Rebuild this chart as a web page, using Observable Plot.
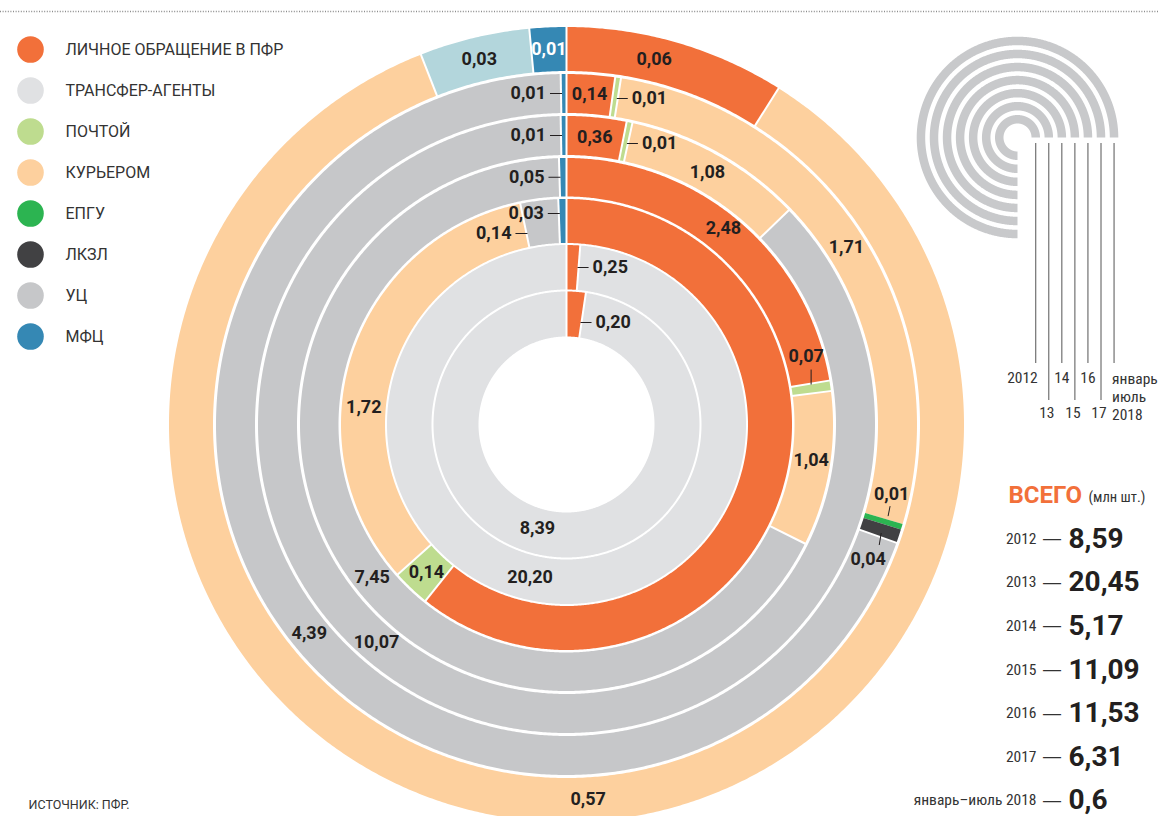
<!DOCTYPE html>
<html><head><meta charset="utf-8">
<script src="https://cdn.jsdelivr.net/npm/d3@7"></script>
<script src="https://cdn.jsdelivr.net/npm/@observablehq/plot@0.6"></script>
<style>
body{margin:0;background:#fff;overflow:hidden;}
#chart svg{display:block;}
</style></head><body><div id="chart"></div>
<script>
// ---------- DATA ----------
const years = ["2012","2013","2014","2015","2016","2017","2018"];
const yearLabels = ["2012","2013","2014","2015","2016","2017","январь–июль 2018"];
const keyLabels = ["2012","13","14","15","16","17","январь\nиюль\n2018"];
const totals = [8.59, 20.45, 5.17, 11.09, 11.53, 6.31, 0.6];
const channels = ["personal","transfer","post","courier","epgu","lkzl","uc","other","mfc"];
const channelNames = ["ЛИЧНОЕ ОБРАЩЕНИЕ В ПФР","ТРАНСФЕР-АГЕНТЫ","ПОЧТОЙ","КУРЬЕРОМ","ЕПГУ","ЛКЗЛ","УЦ","","МФЦ"];
const colors = ["#f2703a","#e0e1e3","#bedc8f","#fdd09e","#2cb451","#414143","#c6c7c9","#b3d6dc","#3588b4"];
// values per channel, one per year (2012..2018), clockwise order from 12 o'clock
const personal = [0.20, 0.25, 3.14, 2.48, 0.36, 0.14, 0.06];
const transfer = [8.39, 20.20, 0, 0, 0, 0, 0];
const post     = [0, 0, 0.14, 0.07, 0.01, 0.01, 0];
const courier  = [0, 0, 1.72, 1.04, 1.08, 1.71, 0.57];
const epgu     = [0, 0, 0, 0, 0, 0.01, 0];
const lkzl     = [0, 0, 0, 0, 0, 0.04, 0];
const uc       = [0, 0, 0.14, 7.45, 10.07, 4.39, 0];
const other    = [0, 0, 0, 0, 0, 0, 0.03];
const mfc      = [0, 0, 0.03, 0.05, 0.01, 0.01, 0.01];
const series = {personal, transfer, post, courier, epgu, lkzl, uc, other, mfc};

// ---------- LAYOUT ----------
const FONT = "Roboto,'Liberation Sans',sans-serif";
const NARROW = "'Liberation Sans Narrow','Roboto Condensed','DejaVu Sans Condensed',Roboto,sans-serif";
const W = 1158, H = 816, CX = 566, CY = 424;
const px = v => v - CX, py = v => CY - v;
const ringInner = [88, 135, 181.5, 228, 269.5, 311.5, 353.5];
const ringOuter = [133, 179.5, 225.5, 266.5, 308.5, 350.5, 397.5];
const minArc = 5.5;
const rad = d => d * Math.PI / 180;
const pol = (a, r, c = [0, 0]) => [c[0] + r * Math.sin(rad(a)), c[1] + r * Math.cos(rad(a))];

const segments = [];
years.forEach((yr, i) => {
  const parts = channels.map(ch => ({ch, v: series[ch][i]})).filter(d => d.v > 0);
  const total = d3.sum(parts, d => d.v);
  const rm = (ringInner[i] + ringOuter[i]) / 2;
  const minDeg = minArc / rm * 180 / Math.PI;
  const angle = d3.scaleLinear().domain([0, total]).range([0, 360]);
  parts.forEach(p => p.span = angle(p.v));
  let extra = 0;
  parts.forEach(p => { if (p.span < minDeg) { extra += minDeg - p.span; p.span = minDeg; } });
  d3.greatest(parts, p => p.span).span -= extra;
  let a = 0;
  parts.forEach(p => {
    segments.push({ring: i, ch: p.ch, v: p.v, a0: a, a1: a + p.span, r0: ringInner[i], r1: ringOuter[i], rm});
    a += p.span;
  });
});

function arcPolygon(id, a0, a1, r0, r1, c, extra) {
  const n = Math.max(2, Math.ceil((a1 - a0) / 0.4));
  const pts = [];
  for (let k = 0; k <= n; k++) { const [x, y] = pol(a0 + (a1 - a0) * k / n, r1, c); pts.push({id, x, y, ...extra}); }
  for (let k = n; k >= 0; k--) { const [x, y] = pol(a0 + (a1 - a0) * k / n, r0, c); pts.push({id, x, y, ...extra}); }
  return pts;
}
const ringPts = segments.flatMap((s, j) => arcPolygon("s" + j, s.a0, s.a1, s.r0, s.r1, [0, 0], {ch: s.ch}));
const seps = segments.filter(s => s.ch !== "epgu" && s.ch !== "lkzl").map(s => {
  const [x1, y1] = pol(s.a0, s.r0 - 1); const [x2, y2] = pol(s.a0, s.r1 + 1);
  return {x1, y1, x2, y2};
});

// labels
const fmt = v => v.toFixed(2).replace(".", ",");
const labelSpecs = [
  {ring: 0, ch: "transfer", angle: 195.6, r: 108},
  {ring: 0, ch: "personal", lead: "right", r: 102},
  {ring: 1, ch: "transfer", angle: 193.4},
  {ring: 1, ch: "personal", lead: "right", r: 157},
  {ring: 2, ch: "uc", lead: "left", r: 191},
  {ring: 2, ch: "mfc", lead: "left", r: 211},
  {ring: 2, ch: "courier", angle: 275},
  {ring: 2, ch: "post"},
  {ring: 3, ch: "mfc", lead: "left"},
  {ring: 3, ch: "personal", angle: 38.7, r: 251},
  {ring: 3, ch: "post", lead: "offset", t0: [0, 4], t1: [0, 19], tt: [-5, 32.5]},
  {ring: 3, ch: "courier", angle: 98.3},
  {ring: 3, ch: "uc", angle: 231.8},
  {ring: 4, ch: "mfc", lead: "left"},
  {ring: 4, ch: "personal"},
  {ring: 4, ch: "post", lead: "right", r: 281},
  {ring: 4, ch: "courier"},
  {ring: 4, ch: "uc", angle: 221.1},
  {ring: 5, ch: "mfc", lead: "left"},
  {ring: 5, ch: "personal"},
  {ring: 5, ch: "post", lead: "right", r: 326},
  {ring: 5, ch: "courier"},
  {ring: 5, ch: "epgu", lead: "offset", t0: [5, 5], t1: [7, 15], tt: [8.5, 27]},
  {ring: 5, ch: "lkzl", lead: "offset", t0: [1, -3], t1: [-1, -15], tt: [-12, -29]},
  {ring: 5, ch: "uc", angle: 231},
  {ring: 6, ch: "personal", angle: 13.5},
  {ring: 6, ch: "courier", angle: 176.7},
  {ring: 6, ch: "other"},
  {ring: 6, ch: "mfc", white: true}
];
const labels = [], ticks = [];
labelSpecs.forEach(sp => {
  const s = segments.find(d => d.ring === sp.ring && d.ch === sp.ch);
  const text = fmt(s.v);
  const r = sp.r ?? s.rm;
  if (!sp.lead) {
    const [x, y] = pol(sp.angle ?? (s.a0 + s.a1) / 2, r);
    labels.push({x, y, text, anchor: "middle", fill: sp.white ? "white" : "#231f20"});
  } else if (sp.lead === "left") {
    const ex = r * Math.tan(rad(s.a0));
    ticks.push({x1: ex + 1, x2: ex - 11, y1: r, y2: r});
    labels.push({x: ex - 15, y: r, text, anchor: "end", fill: "#231f20"});
  } else if (sp.lead === "right") {
    const ex = r * Math.tan(rad(s.a1));
    ticks.push({x1: ex - 1, x2: ex + 10, y1: r, y2: r});
    labels.push({x: ex + 14, y: r, text, anchor: "start", fill: "#231f20"});
  } else {
    const [ax, ay] = pol((s.a0 + s.a1) / 2, s.rm);
    ticks.push({x1: ax + sp.t0[0], y1: ay + sp.t0[1], x2: ax + sp.t1[0], y2: ay + sp.t1[1]});
    labels.push({x: ax + sp.tt[0], y: ay + sp.tt[1], text, anchor: "middle", fill: "#231f20"});
  }
});

// key icon
const kc = [px(1017), py(137)];
const keyPts = years.flatMap((yr, k) => arcPolygon("k" + k, 180, 450, 14 + 13.05 * k, 22.5 + 13.05 * k, kc, {}));
const keyTicks = years.map((yr, k) => ({x: kc[0] + 18.25 + 13.05 * k, y1: py(143), y2: py(k % 2 ? 400 : 363)}));
const keyText = keyLabels.map((t, k) => {
  const tx = kc[0] + 18.25 + 13.05 * k;
  if (k === 0) return {t, x: tx + 2, y: py(378), anchor: "end"};
  if (k === 6) return {t, x: tx - 2, y: py(371), anchor: "start"};
  if (k % 2) return {t, x: tx - 2, y: py(413), anchor: "middle"};
  return {t, x: tx, y: py(378), anchor: "middle"};
});

const legendCh = channels.filter(c => c !== "other");
const rowY = i => py(538.3 + 43.6 * i);
const labelText = anchor => Plot.text(labels.filter(d => d.anchor === anchor), {x: "x", y: "y", text: "text", textAnchor: anchor, fill: "fill", fontSize: 18, fontWeight: "bold", fontFamily: FONT});

const chart = Plot.plot({
  width: W, height: H, margin: 0,
  x: {domain: [px(0), px(W)], axis: null},
  y: {domain: [py(H), py(0)], axis: null},
  color: {domain: channels, range: colors},
  style: {fontFamily: FONT, background: "white"},
  marks: [
    Plot.ruleY([py(11)], {stroke: "#8c8c8c", strokeWidth: 1.3, strokeDasharray: "1,1.6"}),
    Plot.line(ringPts, {x: "x", y: "y", z: "id", fill: "ch", stroke: "none", curve: "linear"}),
    Plot.link(seps, {x1: "x1", y1: "y1", x2: "x2", y2: "y2", stroke: "white", strokeWidth: 2}),
    Plot.link(ticks, {x1: "x1", y1: "y1", x2: "x2", y2: "y2", stroke: "#231f20", strokeWidth: 1}),
    labelText("middle"), labelText("start"), labelText("end"),
    // legend
    Plot.dot(legendCh, {x: () => px(30), y: (d, i) => py(49 + 41 * i), r: 13.3, fill: d => d, stroke: "none"}),
    Plot.text(legendCh, {x: () => px(65), y: (d, i) => py(49 + 41 * i), text: d => channelNames[channels.indexOf(d)], textAnchor: "start", fontSize: 16, fill: "#333", fontFamily: FONT}),
    // key icon
    Plot.line(keyPts, {x: "x", y: "y", z: "id", fill: "#c8c9cb", stroke: "none"}),
    Plot.ruleX(keyTicks, {x: "x", y1: "y1", y2: "y2", stroke: "#555", strokeWidth: 1}),
    Plot.text(keyText.filter(d => d.anchor === "middle"), {x: "x", y: "y", text: "t", textAnchor: "middle", fontSize: 15.5, fill: "#333", fontFamily: NARROW}),
    Plot.text(keyText.filter(d => d.anchor === "end"), {x: "x", y: "y", text: "t", textAnchor: "end", fontSize: 15.5, fill: "#333", fontFamily: NARROW}),
    Plot.text(keyText.filter(d => d.anchor === "start"), {x: "x", y: "y", text: "t", textAnchor: "start", lineAnchor: "top", lineHeight: 1.15, fontSize: 15.5, fill: "#333", fontFamily: NARROW}),
    // totals
    Plot.text(["ВСЕГО"], {x: () => px(1008), y: () => py(495), text: d => d, textAnchor: "start", fontSize: 24, fontWeight: "bold", fill: "#f2703a", fontFamily: FONT}),
    Plot.text(["(млн шт.)"], {x: () => px(1088), y: () => py(497), text: d => d, textAnchor: "start", fontSize: 14.5, fill: "#333", fontFamily: NARROW}),
    Plot.text(yearLabels, {x: () => px(1036), y: (d, i) => rowY(i), text: d => d, textAnchor: "end", fontSize: 15.5, fill: "#333", fontFamily: NARROW}),
    Plot.text(yearLabels, {x: () => px(1051.5), y: (d, i) => rowY(i), text: () => "—", textAnchor: "middle", fontSize: 20, fill: "#333", fontFamily: "'DejaVu Sans',sans-serif"}),
    Plot.text(totals, {x: () => px(1068), y: (d, i) => rowY(i), text: d => String(d).replace(".", ","), textAnchor: "start", fontSize: 28, fontWeight: "bold", fill: "#231f20", fontFamily: FONT}),
    // source
    Plot.text(["ИСТОЧНИК: ПФР."], {x: () => px(28), y: () => py(804), text: d => d, textAnchor: "start", fontSize: 12.5, fill: "#333", fontFamily: FONT})
  ]
});
document.getElementById("chart").append(chart);
</script>
</body></html>
